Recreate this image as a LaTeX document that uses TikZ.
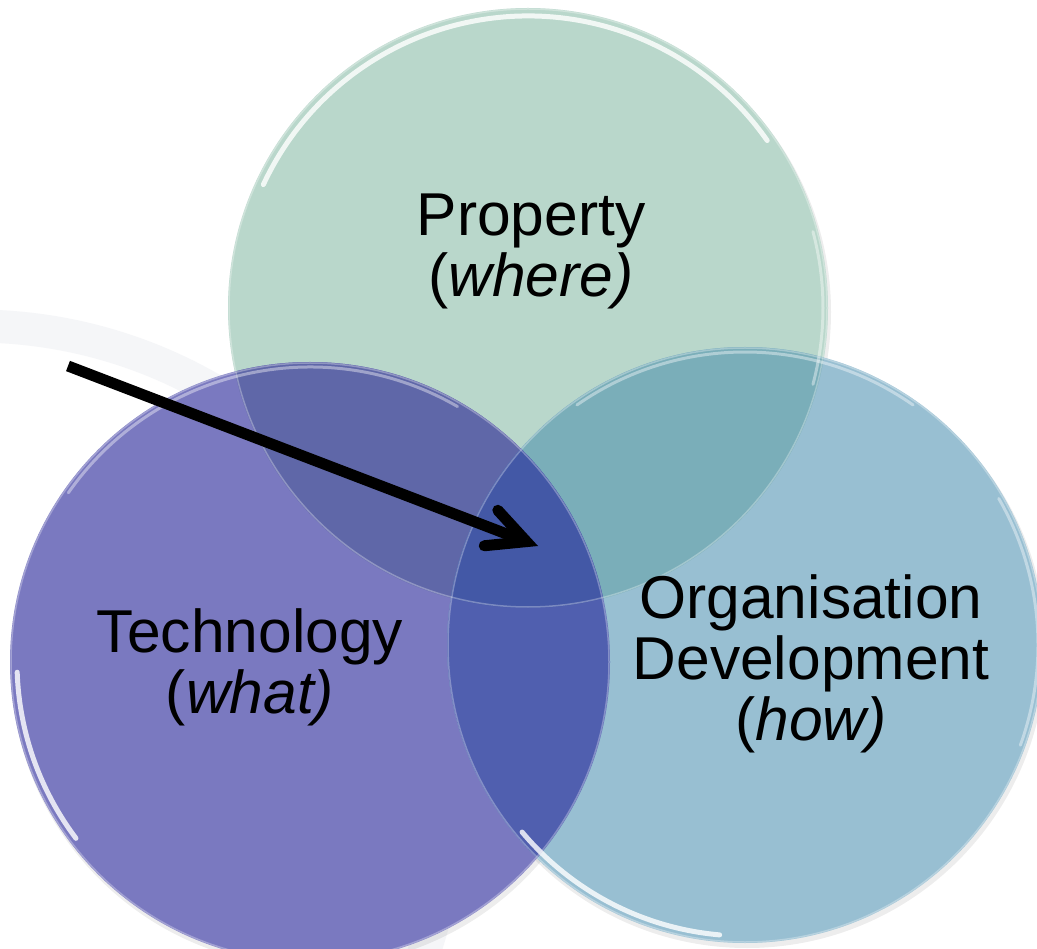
\documentclass[tikz,border=0pt]{standalone}
\usepackage{fontspec}
\setmainfont{Liberation Sans}
\usetikzlibrary{arrows.meta}
\definecolor{colP}{HTML}{B9D7CB}
\definecolor{colT}{HTML}{7A79C0}
\definecolor{colO}{HTML}{98BFD2}
\definecolor{colPO}{HTML}{7AAEB9}
\definecolor{colPT}{HTML}{5F67A8}
\definecolor{colTO}{HTML}{505FAF}
\definecolor{colPTO}{HTML}{4358A6}
\definecolor{logogray}{HTML}{F5F6F8}
\begin{document}
\begin{tikzpicture}[x=1pt,y=-1pt,
  lbl/.style={font=\fontsize{60.5}{61}\selectfont, align=center, inner sep=0pt, text=black},
  hl/.style={white, line width=5pt, opacity=0.8, line cap=round},
  hlsoft/.style={white, line width=3pt, opacity=0.4, line cap=round},
  rim/.style={white, line width=1.5pt, opacity=0.3},
  shade/.style={fill=black, opacity=0.07},
  logo/.style={draw=logogray, line width=33pt},
  pointer/.style={line width=11pt, black,
    -{Straight Barb[length=38pt, width=38pt, line cap=round, line join=miter]}}]
\useasboundingbox (0,0) rectangle (1037,949);
\fill[white] (0,0) rectangle (1037,949);
% faint background logo
\draw[logo] (-25,800) circle[radius=474];
% centres
\coordinate (cP) at (528,308);
\coordinate (cT) at (310,662);
\coordinate (cO) at (745,645);
% shadows
\fill[shade] ([shift={(2,4)}]cP) circle[radius=301];
\fill[shade] ([shift={(2,4)}]cT) circle[radius=301];
\fill[shade] ([shift={(2,4)}]cO) circle[radius=299];
% base fills
\fill[colP] (cP) circle[radius=300];
\fill[colT] (cT) circle[radius=300];
\fill[colO] (cO) circle[radius=298];
% overlaps
\begin{scope}
  \clip (cP) circle[radius=300];
  \fill[colPT] (cT) circle[radius=300];
  \fill[colPO] (cO) circle[radius=298];
\end{scope}
\begin{scope}
  \clip (cT) circle[radius=300];
  \fill[colTO] (cO) circle[radius=298];
  \clip (cP) circle[radius=300];
  \fill[colPTO] (cO) circle[radius=298];
\end{scope}
% rims
\draw[rim] (cP) circle[radius=299];
\draw[rim] (cT) circle[radius=299];
\draw[rim] (cO) circle[radius=297];
% glass highlights
\draw[hl] (cP) ++(205:292) arc[start angle=205, end angle=325, radius=292];
\draw[hlsoft] (cP) ++(345:295) arc[start angle=345, end angle=375, radius=295];
\draw[hl] (cT) ++(143:293) arc[start angle=143, end angle=178, radius=293];
\draw[hlsoft] (cT) ++(215:295) arc[start angle=215, end angle=300, radius=295];
\draw[hl] (cO) ++(95:291) arc[start angle=95, end angle=140, radius=291];
\draw[hlsoft] (cO) ++(235:293) arc[start angle=235, end angle=305, radius=293];
\draw[hlsoft] (cO) ++(330:293) arc[start angle=330, end angle=380, radius=293];
% labels
\node[lbl] (lblP) at (531,251) {Property\\(\textit{where)}};
\node[lbl] (lblT) at (250,667) {Technology\\(\textit{what)}};
\node[lbl] (lblO) at (811,664) {Organisation\\Development\\(\textit{how)}};
% pointer arrow
\coordinate (arrS) at (68,366);
\coordinate (arrE) at (538,546);
\draw[pointer] (arrS) -- (arrE);
\end{tikzpicture}
\end{document}
